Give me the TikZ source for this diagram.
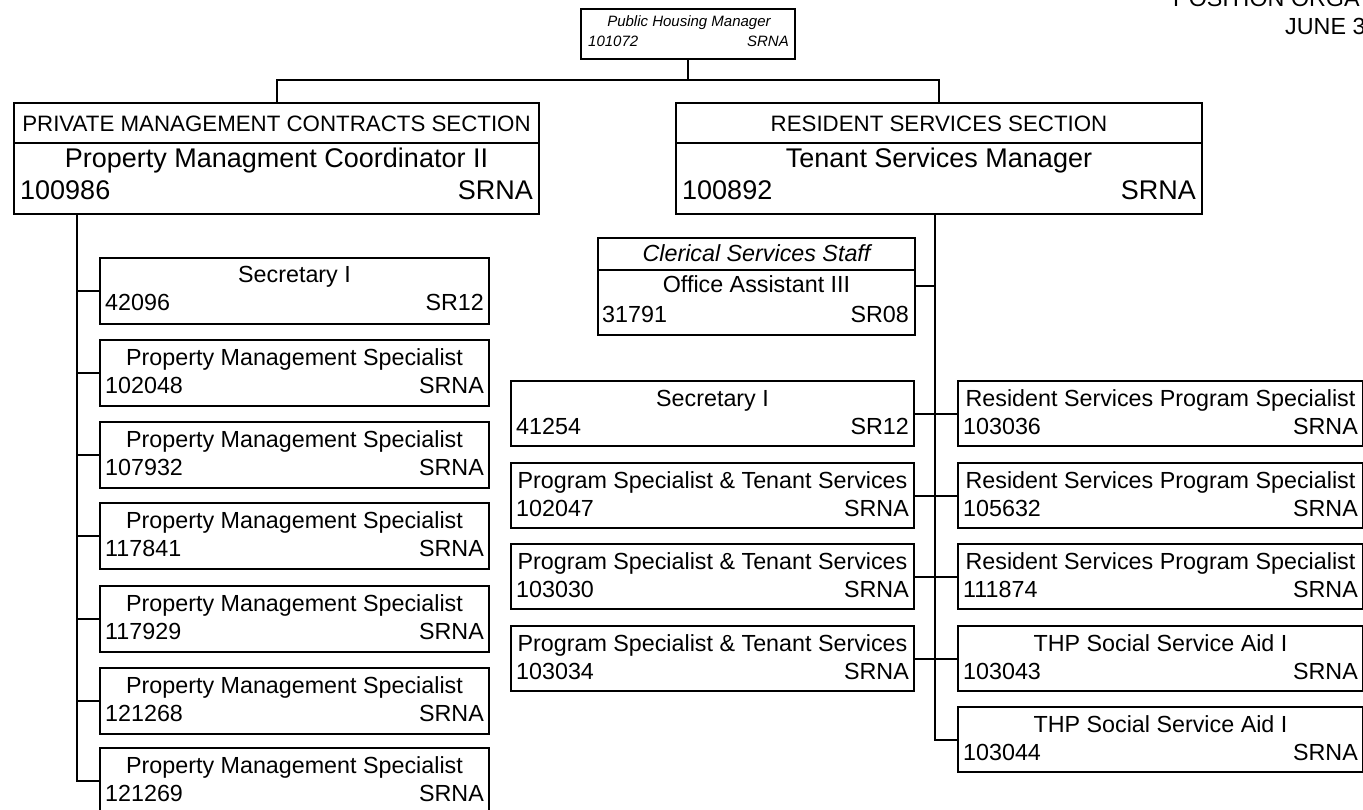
\documentclass[tikz,border=0pt]{standalone}
\usepackage{fontspec}
\setmainfont{Liberation Sans}
\usetikzlibrary{calc}
\tikzset{
  jbox/.style={draw=black, line width=2pt, rectangle, inner sep=0pt, fill=white},
  conn/.style={draw=black, line width=2pt},
  txt/.style={inner sep=0pt, text=black, font=\fontsize{23.3}{28}\selectfont},
  hdr/.style={inner sep=0pt, text=black, font=\fontsize{22.3}{27}\selectfont},
  big/.style={inner sep=0pt, text=black, font=\fontsize{27}{32}\selectfont},
  small/.style={inner sep=0pt, text=black, font=\fontsize{15}{18}\selectfont\itshape},
}
\newcommand{\jobbox}[8]{%
  \node[jbox, minimum width=#4, minimum height=#5, anchor=north west] (#1) at (#2,#3) {};
  \node[txt, anchor=base] (#1-t) at ($(#1.north)+(0,26)$) {#6};
  \node[txt, anchor=base west] (#1-n) at ($(#1.north west)+(6,54)$) {#7};
  \node[txt, anchor=base east] (#1-g) at ($(#1.north east)+(-6,54)$) {#8};
}
\begin{document}
\begin{tikzpicture}[x=1pt,y=-1pt]
\clip (0,0) rectangle (1363,810);
\fill[white] (0,0) rectangle (1363,810);

% title (cut at the edge)
\node[txt, anchor=base west] (title1) at (1173,7) {POSITION ORGA};
\node[txt, anchor=base west] (title2) at (1285,35) {JUNE 3};

\coordinate (bus) at (0,80);
\coordinate (lx) at (77,0);
\coordinate (rx) at (935,0);

% top box
\node[jbox, minimum width=214, minimum height=50, anchor=north west] (phm) at (580,8) {};
\node[small, anchor=base] (phm-t) at ($(phm.north)+(1,19)$) {Public Housing Manager};
\node[small, anchor=base west] (phm-n) at ($(phm.north west)+(8,39)$) {101072};
\node[small, anchor=base east] (phm-g) at ($(phm.north east)+(-7,39)$) {SRNA};

% section boxes
\node[jbox, minimum width=525, minimum height=111, anchor=north west] (pmc) at (13,102) {};
\draw[conn] ($(pmc.north west)+(0,41)$) -- ($(pmc.north east)+(0,41)$);
\node[hdr, anchor=base] (pmc-h) at ($(pmc.north)+(0,30)$) {PRIVATE MANAGEMENT CONTRACTS SECTION};
\node[big, anchor=base] (pmc-t) at ($(pmc.north)+(0,66)$) {Property Managment Coordinator II};
\node[big, anchor=base west] (pmc-n) at ($(pmc.north west)+(7,98)$) {100986};
\node[big, anchor=base east] (pmc-g) at ($(pmc.north east)+(-7,98)$) {SRNA};

\node[jbox, minimum width=526, minimum height=111, anchor=north west] (rss) at (675,102) {};
\draw[conn] ($(rss.north west)+(0,41)$) -- ($(rss.north east)+(0,41)$);
\node[hdr, anchor=base] (rss-h) at ($(rss.north)+(0,30)$) {RESIDENT SERVICES SECTION};
\node[big, anchor=base] (rss-t) at ($(rss.north)+(0,66)$) {Tenant Services Manager};
\node[big, anchor=base west] (rss-n) at ($(rss.north west)+(7,98)$) {100892};
\node[big, anchor=base east] (rss-g) at ($(rss.north east)+(-7,98)$) {SRNA};

% clerical box
\node[jbox, minimum width=317, minimum height=97, anchor=north west] (cl) at (597,237) {};
\draw[conn] ($(cl.north west)+(0,33)$) -- ($(cl.north east)+(0,33)$);
\node[txt, anchor=base, font=\fontsize{23.3}{28}\selectfont\itshape] (cl-h) at ($(cl.north)+(0,25)$) {Clerical Services Staff};
\node[txt, anchor=base] (cl-t) at ($(cl.north)+(0,56)$) {Office Assistant III};
\node[txt, anchor=base west] (cl-n) at ($(cl.north west)+(5,86)$) {31791};
\node[txt, anchor=base east] (cl-g) at ($(cl.north east)+(-7,86)$) {SR08};

% left column
\jobbox{l1}{99}{257}{389}{66}{Secretary I}{42096}{SR12}
\jobbox{l2}{99}{339}{389}{66}{Property Management Specialist}{102048}{SRNA}
\jobbox{l3}{99}{421}{389}{66}{Property Management Specialist}{107932}{SRNA}
\jobbox{l4}{99}{502}{389}{66}{Property Management Specialist}{117841}{SRNA}
\jobbox{l5}{99}{585}{389}{66}{Property Management Specialist}{117929}{SRNA}
\jobbox{l6}{99}{667}{389}{66}{Property Management Specialist}{121268}{SRNA}
\jobbox{l7}{99}{747}{389}{66}{Property Management Specialist}{121269}{SRNA}

% middle column
\jobbox{m1}{510}{380}{403}{65}{Secretary I}{41254}{SR12}
\jobbox{m2}{510}{462}{403}{65}{Program Specialist \& Tenant Services}{102047}{SRNA}
\jobbox{m3}{510}{543}{403}{65}{Program Specialist \& Tenant Services}{103030}{SRNA}
\jobbox{m4}{510}{625}{403}{65}{Program Specialist \& Tenant Services}{103034}{SRNA}

% right column
\jobbox{r1}{957}{380}{405}{65}{Resident Services Program Specialist}{103036}{SRNA}
\jobbox{r2}{957}{462}{405}{65}{Resident Services Program Specialist}{105632}{SRNA}
\jobbox{r3}{957}{543}{405}{65}{Resident Services Program Specialist}{111874}{SRNA}
\jobbox{r4}{957}{625}{405}{65}{THP Social Service Aid I}{103043}{SRNA}
\jobbox{r5}{957}{706}{405}{65}{THP Social Service Aid I}{103044}{SRNA}

% connectors
\draw[conn] (phm.south) -- (phm.south |- bus);
\draw[conn] (pmc.north) |- (rss.north |- bus) -- (rss.north);

\draw[conn] (lx |- pmc.south) |- (l7.west);
\foreach \b in {l1,l2,l3,l4,l5,l6} { \draw[conn] (lx |- \b.west) -- (\b.west); }

\draw[conn] (rx |- rss.south) |- (r5.west);
\draw[conn] (cl.east) -- (rx |- cl.east);
\draw[conn] (m1.east) -- (r1.west);
\draw[conn] (m2.east) -- (r2.west);
\draw[conn] (m3.east) -- (r3.west);
\draw[conn] (m4.east) -- (r4.west);
\end{tikzpicture}
\end{document}
